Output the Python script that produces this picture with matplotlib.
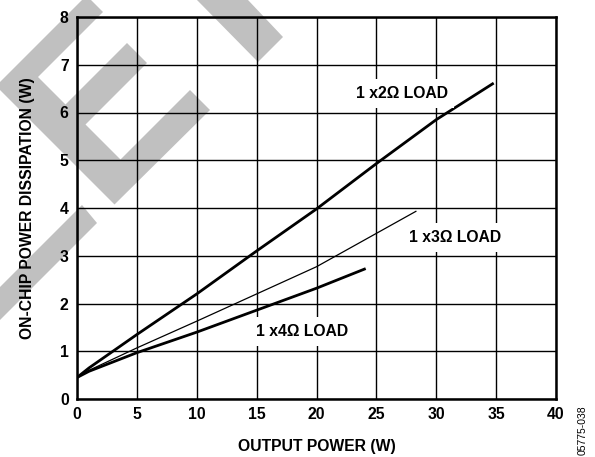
import matplotlib.pyplot as plt
from matplotlib.patches import Polygon

plt.rcParams['font.family'] = ['Liberation Sans', 'DejaVu Sans']
plt.rcParams['font.weight'] = 'bold'

# curves: output power (W) vs on-chip power dissipation (W)
p_2ohm = [0, 1, 5, 10, 15, 20, 25, 30, 34.7]
d_2ohm = [0.45, 0.65, 1.35, 2.2, 3.1, 3.98, 4.93, 5.85, 6.6]

p_3ohm = [0, 1, 5, 10, 15, 20, 28.3]
d_3ohm = [0.45, 0.6, 1.07, 1.63, 2.2, 2.77, 3.93]

p_4ohm = [0, 1, 5, 10, 15, 20, 24]
d_4ohm = [0.45, 0.58, 0.97, 1.4, 1.86, 2.32, 2.72]

labels = ["1 x2\u03a9 LOAD", "1 x3\u03a9 LOAD", "1 x4\u03a9 LOAD"]
label_pos = [(27.1, 6.4), (31.6, 3.38), (18.8, 1.42)]

xticks = [0, 5, 10, 15, 20, 25, 30, 35, 40]
yticks = [0, 1, 2, 3, 4, 5, 6, 7, 8]

W, H = 595, 457
fig = plt.figure(figsize=(W / 100, H / 100), dpi=100)
ax = fig.add_axes([77 / W, 1 - 399 / H, 479 / W, 382 / H])
ax.set_facecolor('none')

# gray "preliminary" watermark shapes, in pixel coords (y down)
watermark = [
    [(-4, 86), (86.5, -4.5), (103, 12), (38, 77), (65.5, 104.5), (127, 43),
     (147, 63), (85.5, 124.5), (120.5, 159.5), (190, 90), (210, 110),
     (114.5, 204.5)],
    [(197, 0), (197, -20), (228, -20), (248, 0), (283, 37), (258, 62)],
    [(82, 205), (97, 223), (-40, 360), (-55, 342)],
]
for shape in watermark:
    pts = [(x / W, 1 - y / H) for x, y in shape]
    fig.patches.append(Polygon(pts, closed=True, transform=fig.transFigure,
                               facecolor='#c0c0c0', edgecolor='none', zorder=-5))

ax.plot(p_2ohm, d_2ohm, color='black', lw=2.0, zorder=3)
ax.plot(p_3ohm, d_3ohm, color='black', lw=0.9, zorder=3)
ax.plot(p_4ohm, d_4ohm, color='black', lw=2.0, zorder=3)

for txt, (x, y) in zip(labels, label_pos):
    ax.text(x, y, txt, ha='center', va='center', fontsize=11.3, fontweight='bold',
            zorder=4, bbox=dict(facecolor='white', edgecolor='none', pad=5))

ax.set_xlim(0, 40)
ax.set_ylim(0, 8)
ax.set_xticks(xticks)
ax.set_yticks(yticks)
ax.tick_params(length=0, labelsize=11.3, pad=6)
for lab in ax.get_xticklabels() + ax.get_yticklabels():
    lab.set_fontweight('bold')
ax.grid(True, color='black', lw=1.0)
ax.set_axisbelow(True)
for s in ax.spines.values():
    s.set_linewidth(1.8)

ax.set_xlabel("OUTPUT POWER (W)", fontsize=11.3, fontweight='bold', labelpad=12)
ax.set_ylabel("ON-CHIP POWER DISSIPATION (W)", fontsize=11.3, fontweight='bold', labelpad=18)

fig.text(583 / W, 1 - 430 / H, "05775-038", rotation=90, ha='center', va='center',
         fontsize=7.5, fontweight='normal')

fig.savefig("out.png", dpi=100)
